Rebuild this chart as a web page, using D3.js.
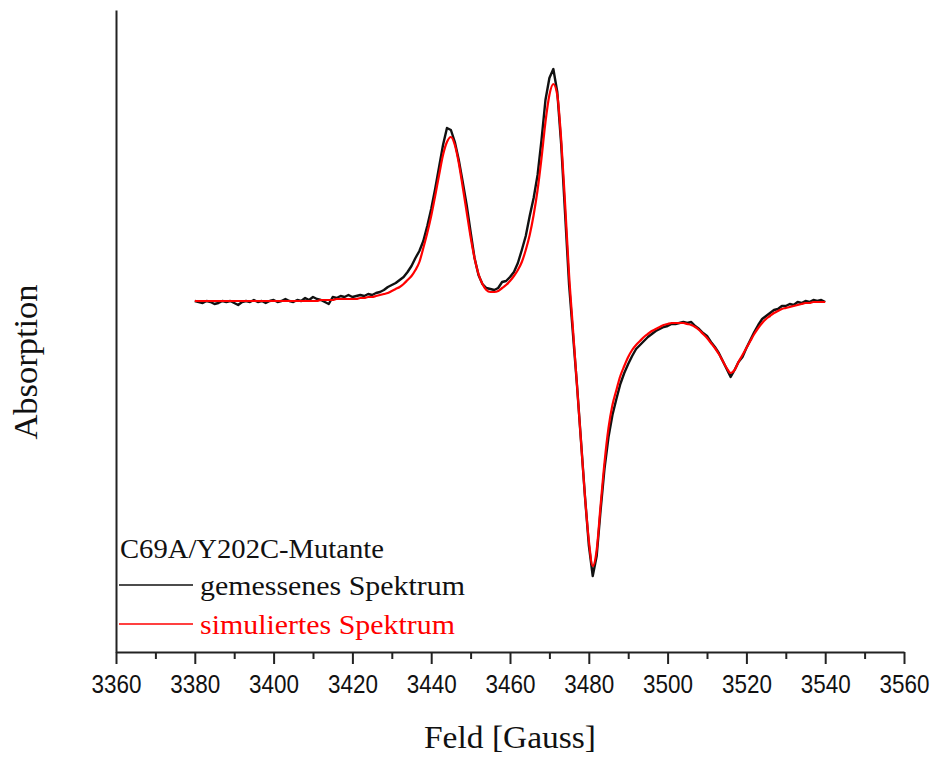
<!DOCTYPE html>
<html>
<head>
<meta charset="utf-8">
<script src="https://cdn.jsdelivr.net/npm/d3@7"></script>
<style>
  body { margin: 0; background: #fff; }
  .tick text { font-family: "Liberation Sans", Arial, sans-serif; }
</style>
</head>
<body>
<div id="chart"></div>
<script>
// EPR spectrum, C69A/Y202C mutant: measured vs simulated
// field axis in Gauss, absorption in arbitrary units (baseline = 0)
var fieldStart = 3380, fieldEnd = 3540;
var xTicks = [3360, 3380, 3400, 3420, 3440, 3460, 3480, 3500, 3520, 3540, 3560];
var xMinorTicks = [3370, 3390, 3410, 3430, 3450, 3470, 3490, 3510, 3530, 3550];

// measured spectrum, one value per Gauss from 3380 to 3540
var measured = [
  0, -0.1, -0.2, 0, -0.1, -0.3, -0.2, 0, -0.1, 0,
  -0.2, -0.4, -0.1, 0, -0.1, 0.1, -0.1, 0, -0.2, 0,
  0.1, -0.1, 0, 0.2, 0, -0.1, 0.1, 0, 0.3, 0.1,
  0.4, 0.2, 0.1, -0.1, -0.3, 0.4, 0.3, 0.5, 0.4, 0.6,
  0.4, 0.5, 0.6, 0.5, 0.7, 0.6, 0.8, 0.9, 1.1, 1.4,
  1.6, 1.8, 2.1, 2.4, 2.9, 3.5, 4.3, 5.0, 6.0, 7.5,
  9.2, 11.2, 13.4, 15.6, 17.3, 17.1, 15.9, 14.1, 11.9, 9.6,
  6.9, 4.3, 2.6, 1.7, 1.3, 1.2, 1.1, 1.3, 1.9, 2.0,
  2.4, 2.9, 3.8, 5.1, 6.5, 8.5, 10.3, 12.6, 16.1, 20.1,
  22.3, 23.2, 20.9, 15.6, 8.6, 1.6, -3.4, -8.4, -13.9, -19.4,
  -24.4, -27.5, -25.5, -20.9, -16.7, -13.6, -11.4, -9.8, -8.3, -7.2,
  -6.3, -5.5, -4.8, -4.4, -4.0, -3.6, -3.3, -3.0, -2.8, -2.6,
  -2.5, -2.3, -2.3, -2.2, -2.1, -2.2, -2.1, -2.5, -2.8, -3.2,
  -3.5, -4.1, -4.6, -5.2, -6.0, -6.8, -7.6, -6.9, -6.1, -5.6,
  -4.7, -3.9, -3.1, -2.4, -1.8, -1.5, -1.2, -0.9, -0.8, -0.5,
  -0.5, -0.3, -0.4, -0.1, -0.2, 0, -0.1, 0.1, 0, 0.1,
  -0.1
];

// simulated spectrum, same field points
var simulated = [
  0, 0, 0, 0, 0, 0, 0, 0, 0, 0,
  0, 0, 0, 0, 0, 0, 0, 0, 0, 0,
  0, 0, 0, 0, 0, 0, 0, 0, 0, 0,
  0, 0, 0.1, 0.1, 0.1, 0.1, 0.2, 0.2, 0.2, 0.2,
  0.2, 0.2, 0.3, 0.3, 0.4, 0.4, 0.5, 0.6, 0.7, 0.8,
  1.0, 1.2, 1.4, 1.7, 2.1, 2.5, 3.1, 3.9, 5.3, 6.8,
  8.5, 10.5, 12.6, 14.6, 15.9, 16.4, 15.6, 13.8, 11.4, 8.9,
  6.4, 4.3, 2.7, 1.7, 1.1, 0.9, 0.9, 1.0, 1.3, 1.6,
  2.0, 2.5, 3.1, 3.9, 5.1, 6.6, 8.6, 11.1, 14.3, 17.9,
  20.6, 21.7, 20.6, 16.1, 9.6, 2.6, -2.9, -8.4, -13.9, -19.4,
  -23.9, -26.5, -24.9, -20.4, -16.1, -12.7, -10.4, -8.9, -7.5, -6.5,
  -5.6, -4.9, -4.4, -4.0, -3.6, -3.3, -3.0, -2.8, -2.6, -2.4,
  -2.3, -2.2, -2.2, -2.2, -2.2, -2.3, -2.4, -2.6, -2.9, -3.3,
  -3.7, -4.2, -4.7, -5.3, -6.0, -6.7, -7.2, -6.9, -6.1, -5.4,
  -4.7, -4.0, -3.3, -2.7, -2.2, -1.8, -1.5, -1.2, -1.0, -0.8,
  -0.7, -0.6, -0.5, -0.4, -0.3, -0.2, -0.2, -0.1, -0.1, -0.1,
  -0.1
];

var legendTitle = "C69A/Y202C-Mutante";
var seriesNames = ["gemessenes Spektrum", "simuliertes Spektrum"];
var seriesColors = ["#111", "#ff0000"];

var width = 932,
    height = 758,
    margin = {top: 10, right: 28, bottom: 106, left: 116},
    innerWidth = width - margin.left - margin.right,
    innerHeight = height - margin.top - margin.bottom;

var serif = "'Liberation Serif', 'Times New Roman', serif";

var fields = d3.range(fieldStart, fieldEnd + 1);

var xScale = d3.scaleLinear().domain([3360, 3560]).range([0, innerWidth]);
var yScale = d3.scaleLinear().domain([-35.1, 29.1]).range([innerHeight, 0]);

var svg = d3.select("#chart").append("svg")
  .attr("width", width)
  .attr("height", height);

var g = svg.append("g")
  .attr("transform", "translate(" + margin.left + "," + margin.top + ")");

// minor ticks first (no labels), then the labelled axis on top
var minor = g.append("g")
  .attr("class", "x minor")
  .attr("transform", "translate(0," + innerHeight + ")")
  .call(d3.axisBottom(xScale).tickValues(xMinorTicks).tickSize(7));
minor.select(".domain").remove();
minor.selectAll("text").remove();

var xAxis = g.append("g")
  .attr("class", "x axis")
  .attr("transform", "translate(0," + innerHeight + ")")
  .call(d3.axisBottom(xScale).tickValues(xTicks).tickSize(12).tickSizeOuter(0)
    .tickPadding(11).tickFormat(d3.format("d")));

// labels in the reference are a narrow sans
xAxis.selectAll("text")
  .attr("fill", "#111")
  .style("font-size", "25px")
  .attr("textLength", 50)
  .attr("lengthAdjust", "spacingAndGlyphs");

g.append("g")
  .attr("class", "y axis")
  .call(d3.axisLeft(yScale).tickValues([]).tickSizeOuter(0));

g.selectAll(".domain, .tick line")
  .attr("stroke", "#222")
  .attr("stroke-width", 2);

var line = d3.line()
  .x(function (d, i) { return xScale(fields[i]); })
  .y(function (d) { return yScale(d); });

g.append("path")
  .datum(measured)
  .attr("fill", "none")
  .attr("stroke", seriesColors[0])
  .attr("stroke-width", 2.4)
  .attr("stroke-linejoin", "round")
  .attr("d", line);

g.append("path")
  .datum(simulated)
  .attr("fill", "none")
  .attr("stroke", seriesColors[1])
  .attr("stroke-width", 2.2)
  .attr("d", line.curve(d3.curveMonotoneX));

// axis titles
svg.append("text")
  .attr("x", margin.left + innerWidth / 2)
  .attr("y", 748)
  .attr("text-anchor", "middle")
  .style("font-family", serif)
  .style("font-size", "31px")
  .attr("textLength", 172)
  .attr("lengthAdjust", "spacingAndGlyphs")
  .attr("fill", "#111")
  .text("Feld [Gauss]");

svg.append("text")
  .attr("transform", "translate(37,362) rotate(-90)")
  .attr("text-anchor", "middle")
  .style("font-family", serif)
  .style("font-size", "33px")
  .attr("textLength", 155)
  .attr("lengthAdjust", "spacingAndGlyphs")
  .attr("fill", "#111")
  .text("Absorption");

// legend in the lower left corner
var legend = svg.append("g")
  .style("font-family", serif)
  .style("font-size", "27px");

legend.append("text")
  .attr("x", 120)
  .attr("y", 558)
  .attr("fill", "#111")
  .attr("textLength", 264)
  .attr("lengthAdjust", "spacingAndGlyphs")
  .text(legendTitle);

var labelLengths = [265, 255];

var items = legend.selectAll(".item")
  .data(seriesNames)
  .enter().append("g")
  .attr("class", "item")
  .attr("transform", function (d, i) { return "translate(0," + (585 + i * 39) + ")"; });

items.append("line")
  .attr("x1", 119)
  .attr("x2", 193)
  .attr("stroke", function (d, i) { return seriesColors[i]; })
  .attr("stroke-width", 1.6);

items.append("text")
  .attr("x", 200)
  .attr("y", 10)
  .attr("fill", function (d, i) { return seriesColors[i]; })
  .attr("textLength", function (d, i) { return labelLengths[i]; })
  .attr("lengthAdjust", "spacingAndGlyphs")
  .text(function (d) { return d; });
</script>
</body>
</html>
